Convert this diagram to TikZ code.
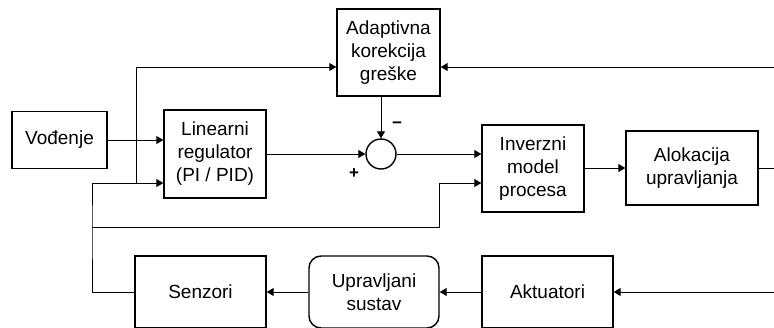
\documentclass[tikz,border=0pt]{standalone}
\usepackage{fontspec}
\setmainfont{Liberation Sans}
\usetikzlibrary{arrows.meta}

\begin{document}
\begin{tikzpicture}[x=1pt,y=-1pt,
            blok/.style={draw, line width=1.4pt, align=center, inner sep=0pt,
                font=\fontsize{19}{23}\selectfont},
            zbroj/.style={draw, circle, line width=1.4pt, minimum size=30pt, inner sep=0pt},
            veza/.style={line width=1pt, -{Triangle[length=7pt,width=8pt]}},
            znak/.style={inner sep=0pt, font=\fontsize{17}{17}\selectfont\bfseries}]
            \useasboundingbox (0,0) rectangle (774,327);

            \node[blok, minimum width=95pt, minimum height=57pt] (vodenje) at (59.5,140) {Vođenje};
            \node[blok, minimum width=102pt, minimum height=88pt] (regulator) at (215,154) {Linearni\\regulator\\(PI / PID)};
            \node[blok, minimum width=103pt, minimum height=87pt] (adaptivna) at (388.5,52.5) {Adaptivna\\korekcija\\greške};
            \node[zbroj] (zbroj) at (381,154) {};
            \node[blok, minimum width=102pt, minimum height=87pt] (inverzni) at (533,168.5) {Inverzni\\model\\procesa};
            \node[blok, minimum width=132pt, minimum height=74pt] (alokacija) at (692,168) {Alokacija\\upravljanja};
            \node[blok, minimum width=131pt, minimum height=72pt] (senzori) at (200.5,292) {Senzori};
            \node[blok, rounded corners=12pt, minimum width=130pt, minimum height=72pt] (sustav) at (374,292) {Upravljani\\sustav};
            \node[blok, minimum width=131pt, minimum height=72pt] (aktuatori) at (547.5,292) {Aktuatori};

            \node[znak] (minus) at (397,125) {−};
            \node[znak] (plus) at (354,174) {+};

            \coordinate (izlaz) at (774,168);
            \coordinate (gore) at (774,67);
            \coordinate (dolje) at (774,292);
            \coordinate (cvor1) at (136,183);
            \coordinate (cvor2) at (92,227);
            \coordinate (lom) at (439,227);

            \draw[veza] (vodenje.east) -- (vodenje.east -| regulator.west);
            \draw[veza] (regulator.east) -- (zbroj.west);
            \draw[veza] (adaptivna.south -| zbroj.north) -- (zbroj.north);
            \draw[veza] (zbroj.east) -- (zbroj.east -| inverzni.west);
            \draw[veza] (inverzni.east |- alokacija.west) -- (alokacija.west);
            \draw[line width=1pt] (alokacija.east) -- (izlaz);

            \draw[veza] (gore) -- (gore -| adaptivna.east);
            \draw[veza] (cvor1) |- (gore -| adaptivna.west);
            \draw[veza] (senzori.west) -| (cvor2) |- (cvor1 -| regulator.west);
            \draw[veza] (cvor2) -- (lom) |- (cvor1 -| inverzni.west);

            \draw[veza] (dolje) -- (aktuatori.east);
            \draw[veza] (aktuatori.west) -- (sustav.east);
            \draw[veza] (sustav.west) -- (senzori.east);

        \end{tikzpicture}
\end{document}
